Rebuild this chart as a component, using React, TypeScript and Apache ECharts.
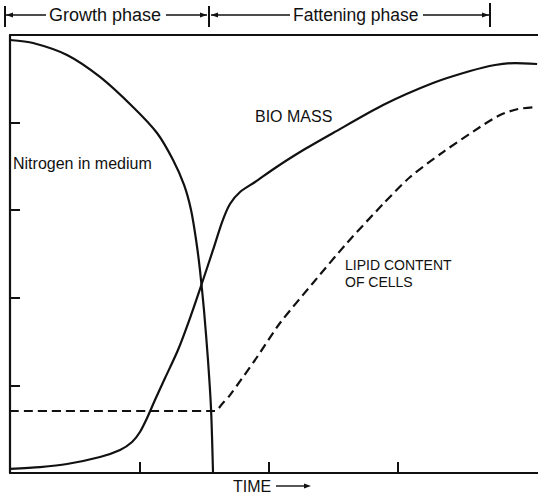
import React, { useEffect, useRef } from "react";
import * as echarts from "echarts";

// Time in tick units (ticks at 1, 2, 3), value in tick units (0..5)
const nitrogenX = [0, 0.178, 0.441, 0.696, 0.951, 1.137, 1.261, 1.346, 1.4, 1.439, 1.469, 1.5, 1.531, 1.555, 1.57];
const nitrogenY = [4.943, 4.909, 4.772, 4.521, 4.178, 3.881, 3.573, 3.288, 3.002, 2.66, 2.317, 1.861, 1.29, 0.719, 0];

const biomassX = [0, 0.232, 0.441, 0.696, 0.851, 0.944, 1.005, 1.06, 1.121, 1.199, 1.299, 1.392, 1.485, 1.57, 1.64, 1.701, 1.779, 1.895, 2.05, 2.243, 2.498, 2.885, 3.271, 3.558, 3.751, 3.906, 4.076];
const biomassY = [0.046, 0.068, 0.103, 0.183, 0.263, 0.354, 0.468, 0.628, 0.833, 1.084, 1.404, 1.769, 2.169, 2.546, 2.865, 3.071, 3.208, 3.322, 3.482, 3.664, 3.881, 4.201, 4.452, 4.589, 4.658, 4.68, 4.669];

const lipidX = [0, 1.585, 1.64, 1.701, 1.895, 2.088, 2.343, 2.606, 2.885, 3.094, 3.349, 3.635, 3.79, 3.929, 4.076];
const lipidY = [0.708, 0.708, 0.788, 0.89, 1.29, 1.712, 2.169, 2.626, 3.071, 3.379, 3.664, 3.95, 4.087, 4.155, 4.178];

const xTicks = [1, 2, 3];
const yTicks = [1, 2, 3, 4];

const labelNitrogen = "Nitrogen in medium";
const labelBiomass = "BIO MASS";
const labelLipid = "LIPID CONTENT\nOF CELLS";
const labelGrowth = "Growth phase";
const labelFattening = "Fattening phase";
const labelTime = "TIME";

const INK = "#111";
const FONT = "'Liberation Sans', Arial, sans-serif";

const zip = (xs: number[], ys: number[]) => xs.map((x, i) => [x, ys[i]]);

function hLine(x1: number, x2: number, y: number, w = 1.4) {
  return { type: "line", shape: { x1, y1: y, x2, y2: y }, style: { stroke: INK, lineWidth: w } };
}
function vLine(x: number, y1: number, y2: number, w = 2) {
  return { type: "line", shape: { x1: x, y1, x2: x, y2 }, style: { stroke: INK, lineWidth: w } };
}
function arrowHead(tipX: number, y: number, dir: number) {
  const len = 7;
  const half = 2.6;
  return {
    type: "polygon",
    shape: { points: [[tipX, y], [tipX - dir * len, y - half], [tipX - dir * len, y + half]] },
    style: { fill: INK },
  };
}
function text(x: number, y: number, t: string, size: number, extra: any = {}) {
  return {
    type: "text",
    x,
    y,
    style: {
      text: t,
      fill: INK,
      font: `${size}px ${FONT}`,
      textAlign: "left",
      textVerticalAlign: "middle",
      ...extra,
    },
  };
}

export default function App() {
  const ref = useRef<HTMLDivElement>(null);
  useEffect(() => {
    if (!ref.current) return;
    const chart = echarts.init(ref.current, undefined, { renderer: "svg" });
    const py = 15;
    chart.setOption({
      animation: false,
      backgroundColor: "#fff",
      grid: { left: 10, right: 0, top: 35, bottom: 27 },
      xAxis: [
        {
          type: "value",
          min: 0,
          max: 4.083,
          position: "bottom",
          axisLine: { show: true, onZero: false, lineStyle: { color: INK, width: 2.2 } },
          axisTick: { show: true, inside: true, length: 11, customValues: xTicks, lineStyle: { color: INK, width: 2 } },
          axisLabel: { show: false },
          splitLine: { show: false },
        },
        {
          type: "value",
          min: 0,
          max: 4.083,
          position: "top",
          axisLine: { show: true, onZero: false, lineStyle: { color: INK, width: 2.2 } },
          axisTick: { show: false },
          axisLabel: { show: false },
          splitLine: { show: false },
        },
      ],
      yAxis: {
        type: "value",
        min: 0,
        max: 5,
        interval: 1,
        axisLine: { show: true, onZero: false, lineStyle: { color: INK, width: 2.2 } },
        axisTick: { show: true, inside: true, length: 10, customValues: yTicks, lineStyle: { color: INK, width: 2 } },
        axisLabel: { show: false },
        splitLine: { show: false },
      },
      series: [
        {
          name: "Nitrogen in medium",
          type: "line",
          data: zip(nitrogenX, nitrogenY),
          symbol: "none",
          smooth: 0.25,
          lineStyle: { color: INK, width: 2.2 },
        },
        {
          name: "Biomass",
          type: "line",
          data: zip(biomassX, biomassY),
          symbol: "none",
          smooth: 0.25,
          lineStyle: { color: INK, width: 2.2 },
        },
        {
          name: "Lipid content of cells",
          type: "line",
          data: zip(lipidX, lipidY),
          symbol: "none",
          smooth: 0.25,
          lineStyle: { color: INK, width: 2.2, type: [9, 5] },
        },
      ],
      graphic: [
        // phase annotation
        vLine(5, 6, 27),
        hLine(6, 46, py),
        arrowHead(6, py, -1),
        text(49, py, labelGrowth, 18),
        hLine(166, 207, py),
        arrowHead(207, py, 1),
        vLine(209, 6, 27),
        hLine(211, 290, py),
        arrowHead(211, py, -1),
        text(293, py, labelFattening, 17.5),
        hLine(423, 489, py),
        arrowHead(489, py, 1),
        vLine(490, 3, 27),
        // curve labels
        text(13, 163, labelNitrogen, 16),
        text(255, 116, labelBiomass, 16),
        text(345, 273, labelLipid, 14, { lineHeight: 17 }),
        // time axis label
        text(233, 486, labelTime, 16),
        hLine(276, 306, 486),
        arrowHead(311, 486, 1),
      ],
    });
    return () => chart.dispose();
  }, []);
  return (
    <div
      ref={ref}
      style={{ position: "fixed", left: 0, top: 0, width: 538, height: 500, background: "#fff" }}
    />
  );
}
